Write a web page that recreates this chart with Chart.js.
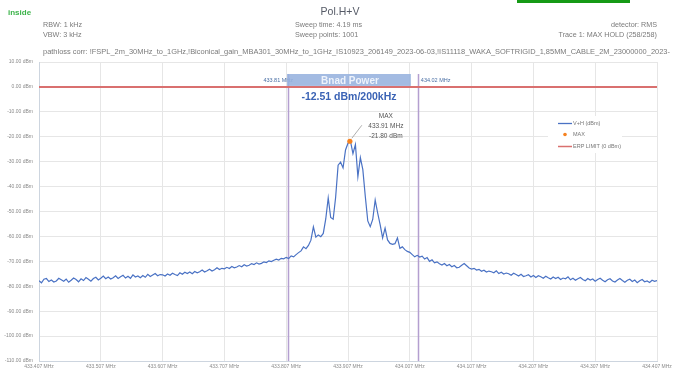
<!DOCTYPE html>
<html>
<head>
<meta charset="utf-8">
<script src="https://cdn.jsdelivr.net/npm/chart.js@4/dist/chart.umd.min.js"></script>
<style>
  html, body { margin: 0; padding: 0; background: #fff; }
  #wrap { position: relative; width: 675px; height: 373px; }
</style>
</head>
<body>
<div id="wrap"><canvas id="c" width="675" height="373"></canvas></div>
<script>
// Sweep grid (MHz)
const SWEEP_START_MHZ = 433.407;
const SWEEP_STEP_MHZ = 0.004;

// Trace 1 (V+H), max hold, dBm per sweep point
const traceDbm = [
  -77.8,-78.6,-77.2,-76.9,-78.1,-77.5,-78.3,-77.9,-76.8,-77.4,
  -78.0,-77.1,-78.4,-77.6,-76.7,-77.3,-78.2,-77.0,-77.7,-76.5,
  -77.2,-78.0,-76.9,-76.4,-77.5,-76.8,-75.9,-77.0,-76.3,-77.1,
  -76.6,-75.8,-76.9,-76.2,-75.6,-76.7,-76.0,-76.8,-75.4,-76.3,
  -75.9,-76.6,-75.7,-76.4,-75.2,-76.1,-75.5,-74.9,-75.8,-75.3,
  -75.4,-75.9,-75.1,-75.6,-74.8,-75.3,-75.7,-74.6,-75.2,-74.4,
  -74.9,-74.3,-75.0,-74.1,-74.6,-74.2,-73.5,-74.3,-73.8,-73.2,
  -73.9,-73.4,-72.6,-73.3,-72.8,-73.0,-72.4,-72.9,-72.1,-72.6,
  -72.3,-71.7,-72.2,-71.4,-71.9,-71.6,-70.9,-71.3,-70.6,-71.1,
  -70.8,-70.2,-70.5,-69.8,-70.1,-69.6,-69.1,-69.5,-68.8,-69.0,
  -68.4,-68.9,-67.8,-68.2,-67.3,-66.5,-65.8,-64.2,-64.9,-63.6,
  -61.5,-56.2,-60.3,-59.4,-60.1,-58.8,-53.0,-44.6,-52.4,-53.1,
  -44.3,-31.4,-30.2,-32.5,-25.3,-22.6,-21.8,-26.8,-23.1,-36.0,
  -28.4,-33.2,-44.0,-53.8,-56.1,-53.2,-45.4,-50.6,-55.3,-60.6,
  -56.7,-61.4,-62.8,-63.2,-62.9,-60.6,-64.8,-64.2,-65.3,-66.0,
  -66.4,-67.3,-68.2,
  -67.6,-68.3,-67.9,-69.1,-68.5,-70.0,-69.4,-70.6,-70.2,-71.0,
  -71.5,-70.9,-71.8,-71.3,-72.2,-71.7,-72.6,-72.4,-71.6,-70.9,
  -71.8,-72.7,-73.1,-72.8,-73.5,-73.2,-74.0,-73.6,-74.3,-73.9,
  -74.2,-74.6,-73.8,-74.9,-74.4,-75.1,-74.7,-75.0,-75.6,-74.8,
  -75.3,-75.9,-75.2,-76.1,-75.8,-75.4,-76.3,-75.7,-76.5,-75.8,
  -76.2,-76.8,-76.0,-76.6,-77.1,-76.3,-76.9,-76.4,-77.3,-76.7,
  -77.0,-76.2,-77.4,-76.8,-77.6,-77.0,-76.5,-77.3,-77.8,-76.9,
  -77.5,-77.1,-78.0,-77.3,-76.8,-77.6,-78.2,-77.4,-77.0,-77.9,
  -78.3,-77.5,-76.9,-77.7,-78.4,-77.6,-77.2,-78.1,-77.5,-78.6,
  -77.8,-77.3,-78.2,-77.9,-78.5,-77.6,-78.0,-77.7
];

// Axis ticks
const xTickValues = [433.407, 433.507, 433.607, 433.707, 433.807, 433.907,
                     434.007, 434.107, 434.207, 434.307, 434.407];
const yTickValues = [10, 0, -10, -20, -30, -40, -50, -60, -70, -80, -90, -100, -110];

// Peak marker
const maxFreq = [433.91];
const maxLevel = [-21.80];

// Limit line
const limitFreq = [433.407, 434.407];
const limitLevel = [0, 0];

// Band power channel
const bandEdges = [433.81, 434.02];
const bandPowerText = "-12.51 dBm/200kHz";

// Header texts
const headerLeft = ["RBW: 1 kHz", "VBW: 3 kHz"];
const headerMid = ["Sweep time: 4.19 ms", "Sweep points: 1001"];
const headerRight = ["detector: RMS", "Trace 1: MAX HOLD (258/258)"];
const pathLossText = "pathloss corr: !FSPL_2m_30MHz_to_1GHz,!Biconical_gain_MBA301_30MHz_to_1GHz_IS10923_206149_2023-06-03,!IS11118_WAKA_SOFTRIGID_1,85MM_CABLE_2M_23000000_2023-";

const FONT = "'Liberation Sans', Arial, sans-serif";
const traceColor = "#4a72c4";
const maxColor = "#f58220";
const limitColor = "#d9706f";

const tracePoints = traceDbm.map((v, i) => ({ x: SWEEP_START_MHZ + i * SWEEP_STEP_MHZ, y: v }));
const maxPoints = maxFreq.map((f, i) => ({ x: f, y: maxLevel[i] }));
const limitPoints = limitFreq.map((f, i) => ({ x: f, y: limitLevel[i] }));

const overlay = {
  id: 'overlay',
  beforeDraw(chart) {
    const ctx = chart.ctx;
    ctx.save();
    ctx.fillStyle = '#fff';
    ctx.fillRect(0, 0, chart.width, chart.height);

    // top green tab
    ctx.fillStyle = '#169a16';
    ctx.fillRect(517, 0, 113, 3);

    ctx.textBaseline = 'middle';
    ctx.fillStyle = '#3cb34a';
    ctx.font = 'bold 8px ' + FONT;
    ctx.textAlign = 'left';
    ctx.fillText('inside', 8, 12.5);

    ctx.fillStyle = '#555a66';
    ctx.font = '10.5px ' + FONT;
    ctx.textAlign = 'center';
    ctx.fillText('Pol.H+V', 340, 12);

    ctx.fillStyle = '#7a7a7a';
    ctx.font = '7.2px ' + FONT;
    ctx.textAlign = 'left';
    ctx.fillText(headerLeft[0], 43, 24.7);
    ctx.fillText(headerLeft[1], 43, 35);
    ctx.fillText(headerMid[0], 295, 24.7);
    ctx.fillText(headerMid[1], 295, 35);
    ctx.textAlign = 'right';
    ctx.fillText(headerRight[0], 657, 24.7);
    ctx.fillText(headerRight[1], 657, 35);

    ctx.textAlign = 'left';
    ctx.font = '7.45px ' + FONT;
    ctx.fillText(pathLossText, 43, 51.5);
    ctx.restore();
  },
  beforeDatasetsDraw(chart) {
    const ctx = chart.ctx;
    const xs = chart.scales.x;
    const area = chart.chartArea;
    ctx.save();
    ctx.strokeStyle = '#b49fd0';
    ctx.lineWidth = 1.5;
    bandEdges.forEach(f => {
      const px = Math.round(xs.getPixelForValue(f)) + 0.5;
      ctx.beginPath();
      ctx.moveTo(px, 74);
      ctx.lineTo(px, area.bottom);
      ctx.stroke();
    });
    ctx.restore();
  },
  afterDatasetsDraw(chart) {
    const ctx = chart.ctx;
    const xs = chart.scales.x;
    const ys = chart.scales.y;
    ctx.save();

    // band edge labels
    const xl = xs.getPixelForValue(bandEdges[0]);
    const xr = xs.getPixelForValue(bandEdges[1]);
    ctx.textBaseline = 'middle';
    ctx.font = '5.5px ' + FONT;
    ctx.fillStyle = '#4a6fa5';
    ctx.textAlign = 'right';
    ctx.fillText(bandEdges[0].toFixed(2) + ' MHz', xl + 5, 80);
    ctx.textAlign = 'left';
    ctx.fillText(bandEdges[1].toFixed(2) + ' MHz', xr + 3, 80);

    // band power box
    const y0 = ys.getPixelForValue(0);
    const bx0 = xl - 1, bx1 = xr - 7;
    ctx.fillStyle = 'rgba(150,178,222,0.88)';
    ctx.fillRect(bx0, 74, bx1 - bx0, y0 - 1 - 74);
    ctx.fillStyle = '#eef3fb';
    ctx.font = 'bold 10px ' + FONT;
    ctx.textAlign = 'center';
    ctx.fillText('Bnad Power', (bx0 + bx1) / 2 + 1, 81);

    ctx.fillStyle = '#3b63b5';
    ctx.font = 'bold 10.5px ' + FONT;
    ctx.fillText(bandPowerText, (bx0 + bx1) / 2, 97);

    // peak callout
    const px = xs.getPixelForValue(maxFreq[0]);
    const py = ys.getPixelForValue(maxLevel[0]);
    ctx.strokeStyle = '#9a9a9a';
    ctx.lineWidth = 0.8;
    ctx.beginPath();
    ctx.moveTo(px + 2, py - 3);
    ctx.lineTo(px + 12, py - 16);
    ctx.stroke();
    ctx.fillStyle = '#555';
    ctx.font = '6.5px ' + FONT;
    const tx = px + 36;
    ctx.fillText('MAX', tx, py - 25);
    ctx.fillText(maxFreq[0].toFixed(2) + ' MHz', tx, py - 15);
    ctx.fillText(maxLevel[0].toFixed(2) + ' dBm', tx, py - 5);

    // legend
    ctx.fillStyle = '#fff';
    ctx.fillRect(548, 116, 74, 37);
    ctx.textAlign = 'left';
    ctx.font = '5.5px ' + FONT;
    ctx.lineWidth = 1.3;
    ctx.strokeStyle = traceColor;
    ctx.beginPath(); ctx.moveTo(558, 123.5); ctx.lineTo(572, 123.5); ctx.stroke();
    ctx.fillStyle = maxColor;
    ctx.beginPath(); ctx.arc(565, 134.5, 1.8, 0, Math.PI * 2); ctx.fill();
    ctx.strokeStyle = limitColor;
    ctx.lineWidth = 1.5;
    ctx.beginPath(); ctx.moveTo(558, 146.5); ctx.lineTo(572, 146.5); ctx.stroke();
    ctx.fillStyle = '#777';
    chart.data.datasets.forEach((ds, i) => {
      ctx.fillText(ds.label, 573, [123.5, 134.5, 146.5][i]);
    });
    ctx.restore();
  }
};

new Chart(document.getElementById('c'), {
  type: 'line',
  data: {
    datasets: [
      {
        label: 'V+H (dBm)',
        data: tracePoints,
        borderColor: traceColor,
        borderWidth: 1.2,
        pointRadius: 0,
        tension: 0,
        order: 2
      },
      {
        label: 'MAX',
        data: maxPoints,
        showLine: false,
        pointRadius: 2.6,
        pointBackgroundColor: maxColor,
        pointBorderWidth: 0,
        order: 0
      },
      {
        label: 'ERP LIMIT (0 dBm)',
        data: limitPoints,
        borderColor: limitColor,
        borderWidth: 2,
        pointRadius: 0,
        order: 1
      }
    ]
  },
  options: {
    responsive: false,
    animation: false,
    devicePixelRatio: 1,
    layout: { padding: { top: 62, right: 18, left: 0, bottom: 0 } },
    plugins: { legend: { display: false }, tooltip: { enabled: false }, title: { display: false } },
    scales: {
      x: {
        type: 'linear',
        min: xTickValues[0],
        max: xTickValues[xTickValues.length - 1],
        afterBuildTicks: s => { s.ticks = xTickValues.map(v => ({ value: v })); },
        afterFit: s => { s.height = 12; },
        ticks: {
          autoSkip: false,
          maxRotation: 0,
          padding: 3,
          color: '#8a8a8a',
          font: { size: 5, family: FONT },
          callback: v => Number(v).toFixed(3) + ' MHz'
        },
        grid: { color: '#e6e6e6', drawTicks: false, lineWidth: 1 },
        border: { color: '#cdd5df', width: 1 }
      },
      y: {
        min: yTickValues[yTickValues.length - 1],
        max: yTickValues[0],
        afterBuildTicks: s => { s.ticks = yTickValues.map(v => ({ value: v })); },
        afterFit: s => { s.width = 39; },
        ticks: {
          padding: 6,
          color: '#8a8a8a',
          font: { size: 5, family: FONT },
          callback: v => Number(v).toFixed(2) + ' dBm'
        },
        grid: { color: '#e6e6e6', drawTicks: false, lineWidth: 1 },
        border: { color: '#cdd5df', width: 1 }
      }
    }
  },
  plugins: [overlay]
});
</script>
</body>
</html>
